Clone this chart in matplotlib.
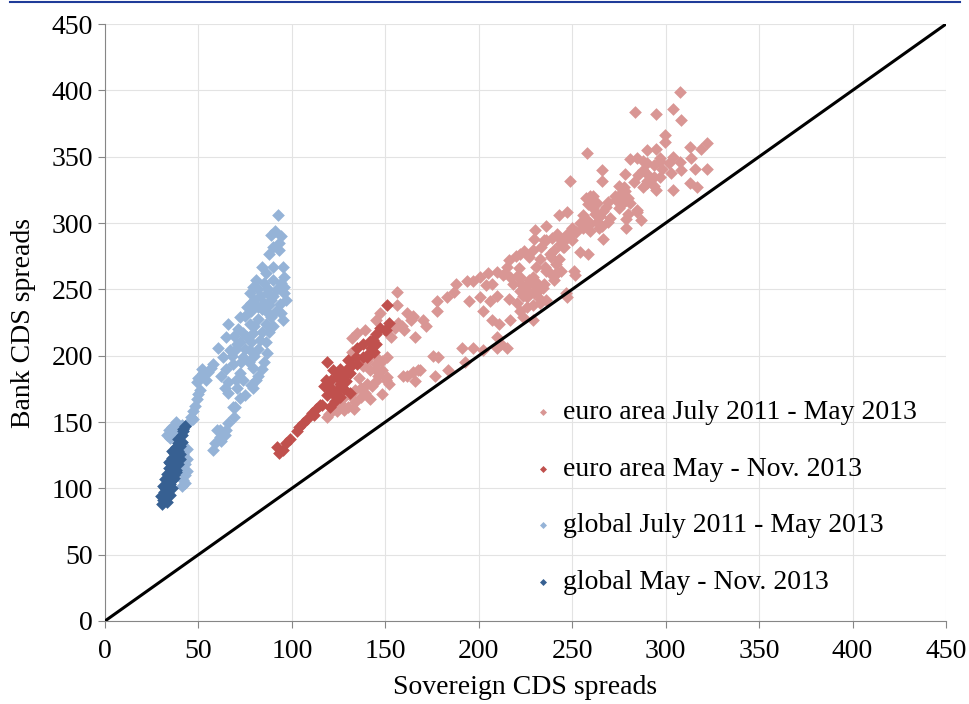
import numpy as np
import matplotlib
matplotlib.use("Agg")
import matplotlib.pyplot as plt
from matplotlib.lines import Line2D

plt.rcParams['font.family'] = ['Liberation Serif', 'DejaVu Serif']

# euro area July 2011 - May 2013 (sovereign, bank)
ea_early = [
    # lower-left part
    (118.6, 154), (122, 161), (128, 169), (131, 170), (137, 169), (141.6, 167), (134, 174),
    (140, 179), (145, 181), (148, 171), (150.4, 182), (152, 179), (145, 189), (148, 189),
    (141.6, 189), (138, 192), (148, 196), (151, 199), (145, 199), (140, 196), (143, 201),
    (134.6, 217), (132, 213), (139, 219), (147, 232), (145, 227), (153, 214), (155, 221),
    (157, 225), (159, 222), (160, 219), (164, 227), (156, 238), (156, 248), (165, 229),
    (166, 214), (132, 203), (138, 196), (145, 194), (151, 184), (128, 159), (124, 158),
    (120, 156), (130, 161), (134, 165), (137, 176), (143, 177), (159.6, 185), (165, 188),
    (167.6, 189), (126, 164), (133, 160), (139, 172), (146, 185), (136, 183),
    # middle band, lower
    (161.5, 185), (168.5, 189), (176.6, 185), (166, 181), (183.5, 189), (191, 206),
    (192.6, 195), (175.5, 200), (178, 199), (197, 206), (202, 204), (209.7, 206), (212, 209),
    (215, 206), (209.7, 214), (216.7, 227), (222, 234), (225.8, 244), (231, 249),
    # middle band, upper
    (161.5, 232), (165, 230), (170, 227), (172, 222), (177.6, 234), (177.6, 241), (183, 244),
    (187, 248), (188, 254), (193.5, 256), (197, 256), (200.6, 259), (204, 253), (200.6, 244),
    (206, 241), (195, 241), (202, 234), (207, 227), (211, 224), (218.5, 254), (222, 259),
    (213, 261), (222, 249), (229, 254),
    # near the diagonal
    (223.6, 229), (229, 227), (232.7, 240), (236, 242), (226, 237), (227.5, 247), (231, 249),
    (222.5, 254), (235, 254), (240, 257), (242, 262), (238, 262), (247, 244), (251.5, 261),
    (244, 264),
    # upper-right cloud
    (307.6, 399), (283.6, 384), (295, 382), (304, 386), (308, 378), (258, 353), (299.6, 366),
    (299.6, 361), (313, 357), (322, 360), (319, 356), (290, 355), (295, 356), (297, 349),
    (304, 350), (284.6, 349), (281, 348), (288, 347), (293.5, 344), (313.8, 349), (307.6, 346),
    (315.7, 341), (322, 341), (308, 340), (303, 338), (266, 340), (266, 332), (248.8, 332),
    (278, 337), (290, 337), (297, 335), (290, 332), (283, 331), (293.5, 328), (288, 327),
    (304, 325), (313, 330), (316.5, 327), (275, 328), (278, 324), (276.8, 320), (273, 320),
    (280, 319), (269, 316), (281, 315), (276.8, 314), (261, 320), (257.5, 319), (260, 316),
    (263, 315), (258.6, 314), (275, 311), (284.6, 308), (280, 307), (284.6, 310), (243, 306),
    (247, 308), (262, 307), (265, 305), (257.5, 302), (263, 301), (269, 301), (254, 300),
    (259.6, 299), (266, 298), (286.6, 302), (279, 303), (279, 296), (235.8, 298), (230, 295),
    (259.6, 294), (266.6, 288), (250, 296), (252, 293), (247, 292), (241.7, 292), (239, 289),
    (244, 287), (235, 287), (229.5, 288), (224, 279), (229, 280), (233.5, 282), (240, 280),
    (245.8, 282), (254, 278), (258.6, 277), (220, 275), (227, 274), (232.5, 273), (238.7, 274),
    (243, 273), (216, 272), (209.7, 263), (214, 262), (221.5, 266), (230.4, 267), (235.8, 264),
    (241.2, 262), (251, 264), (220.6, 260), (227, 257), (231, 255), (225, 252), (234.4, 251),
    (229.5, 247), (223.6, 245), (233, 243), (207, 254), (205, 262), (209.7, 245), (216, 243),
    (220.6, 240), (246.7, 247), (229, 238),
    (259.5, 320), (263, 307), (258, 302), (266.6, 309), (270, 304), (264.5, 296), (255.6, 296),
    (275.5, 322), (279, 317), (273.6, 317), (277.6, 327), (247, 289), (243.7, 284), (250, 287),
    (238, 277), (241.5, 269), (235.6, 267), (229, 259), (225.8, 249), (231, 248), (215, 267),
    (216.6, 259), (222, 277), (236, 287), (245, 282), (248.8, 292), (290, 330), (293.5, 335),
    (295, 325), (288, 340), (290, 345), (297, 347), (302, 345), (285, 336), (298, 341),
    (261, 311), (256, 306), (268, 312),
]

# euro area May - Nov. 2013
ea_late = [
    (93, 127), (92, 131), (95, 129), (97, 134), (99, 137), (103, 143), (104, 146), (108, 152),
    (112, 155), (113, 160), (115, 163), (106, 149), (110.7, 157), (116, 163), (120.5, 161),
    (119, 195), (121, 182), (124, 174), (120, 177), (127.6, 184), (126, 190), (132, 193),
    (130, 197), (134.5, 199), (138, 209), (141.6, 211), (145, 216), (147, 221), (150, 219),
    (152, 225), (151, 238), (144, 203), (142.6, 206), (134.6, 206), (140, 199), (131, 187),
    (122, 171), (124, 184), (118, 182), (126, 179), (129, 181), (122, 189), (117, 177),
    (123, 166), (126, 169), (129, 189), (135, 194), (138, 199), (141.6, 203), (143.6, 212),
    (150.4, 219), (145, 209), (128, 175), (131, 172), (119, 170), (121, 175), (125, 186),
]

# global July 2011 - May 2013
gl_early = [
    (33, 140), (34, 144), (36, 146), (35, 138), (37, 142), (39, 145), (41, 148), (38, 150),
    (40, 140), (41, 102), (42, 106), (43, 110), (41, 114), (43, 118), (44, 122), (42, 126),
    (44, 113), (43, 104), (40, 128), (44, 130),
    (45, 150), (46, 154), (47, 158), (48, 162), (49, 167), (50, 171), (51, 174), (47, 152),
    (49, 180), (51, 184), (53, 186), (55, 188), (57, 191), (52, 190), (54, 182), (50, 183),
    (57.8, 129), (58.8, 134), (61.5, 139), (59.7, 144), (65, 144), (66, 149), (68.5, 161),
    (72, 168), (64, 140), (62, 136), (69.5, 161), (68.8, 154), (61.5, 144),
    (52.5, 187), (58, 194), (60.5, 206), (65, 214), (66, 224), (64, 176), (66, 172),
    (70.6, 176), (75, 170), (79, 176), (82, 185), (86.7, 202), (85, 195), (83, 212), (72, 187),
    (68.5, 194), (74, 199), (77.6, 204), (70.6, 209), (74, 217), (72, 229), (76, 237),
    (77.6, 247), (79, 252), (81, 257), (77.6, 224), (79, 217), (67, 204), (63, 199), (74, 182),
    (79, 191), (84, 267), (90, 267), (86, 262), (90, 257), (95, 267), (96, 259), (93.6, 252),
    (96, 247), (97, 242), (93.6, 239), (89, 242), (91.5, 234), (94, 232), (89, 229), (86, 234),
    (86, 224), (90, 222), (95, 227), (86.6, 247), (88, 277), (90, 282), (93, 280), (89, 291),
    (94, 290), (91, 294), (93, 285), (92.5, 306), (80, 242), (78, 234), (82, 237),
    (68, 200), (70, 205), (72, 210), (75, 205), (73, 195), (77, 195), (80, 200), (82, 205),
    (78, 210), (76, 214), (80, 222), (82, 228), (84, 235), (85, 240), (83, 245), (82, 250),
    (85, 255), (87, 250), (90, 245), (92, 250), (94, 255), (96, 252), (88, 238), (65, 190),
    (62, 185), (66, 180), (70, 182), (78, 178), (81, 182), (84, 190), (86, 210), (88, 218),
    (84, 218), (75, 230), (78, 240), (71, 220), (69, 215),
]

# global May - Nov. 2013
gl_late = [
    (30.5, 88), (31, 91), (30, 94), (32, 93), (31.5, 97), (33, 96), (32, 100), (34, 99),
    (31, 102), (33, 104), (35, 103), (32, 107), (34, 108), (36, 106), (33, 111), (35, 112),
    (37, 110), (34, 115), (36, 116), (38, 114), (35, 119), (37, 120), (39, 118), (36, 123),
    (38, 124), (40, 122), (37, 127), (39, 128), (38, 131), (40, 132), (41, 135), (39, 137),
    (41, 140), (42, 143), (43, 147), (42, 145), (40, 126), (36, 100), (33, 90), (35, 95),
    (38, 112), (37, 108), (39, 134), (34, 120), (36, 128),
]

labels = ["euro area July 2011 - May 2013", "euro area May - Nov. 2013",
          "global July 2011 - May 2013", "global May - Nov. 2013"]
colors = ["#D99694", "#C0504D", "#95B3D7", "#376092"]
series = [ea_early, ea_late, gl_early, gl_late]

fig = plt.figure(figsize=(9.7, 7.04), dpi=100)
ax = fig.add_axes([0.1082, 0.1179, 0.8671, 0.848])

for pts, c, lab in zip(series, colors, labels):
    a = np.array(pts)
    ax.scatter(a[:, 0], a[:, 1], marker='D', s=42, color=c, linewidths=0, label=lab, zorder=3)

ax.plot([0, 450], [0, 450], color='black', lw=2.2, zorder=4)

ax.set_xlim(0, 450)
ax.set_ylim(0, 450)
ax.set_xticks(np.arange(0, 451, 50))
ax.set_yticks(np.arange(0, 451, 50))
ax.grid(True, color='#E3E3E3', lw=0.8)
ax.set_axisbelow(True)
for s in ['top', 'right']:
    ax.spines[s].set_visible(False)
for s in ['left', 'bottom']:
    ax.spines[s].set_color('#868686')
ax.tick_params(colors='#868686', labelcolor='black', labelsize=20, length=5, direction='out')
ax.tick_params(axis='x', pad=8)
ax.set_xlabel("Sovereign CDS spreads", fontsize=20, labelpad=8)
ax.set_ylabel("Bank CDS spreads", fontsize=20, labelpad=11)

leg = ax.legend(loc='upper left', bbox_to_anchor=(0.498, 0.389), frameon=False, fontsize=20,
                markerscale=0.55, handlelength=0.6, handletextpad=0.4, labelspacing=1.12,
                borderaxespad=0)

fig.add_artist(Line2D([0.01, 0.99], [0.9975, 0.9975], color='#1F3C99', lw=1.5))

fig.savefig("out.png", dpi=100)
